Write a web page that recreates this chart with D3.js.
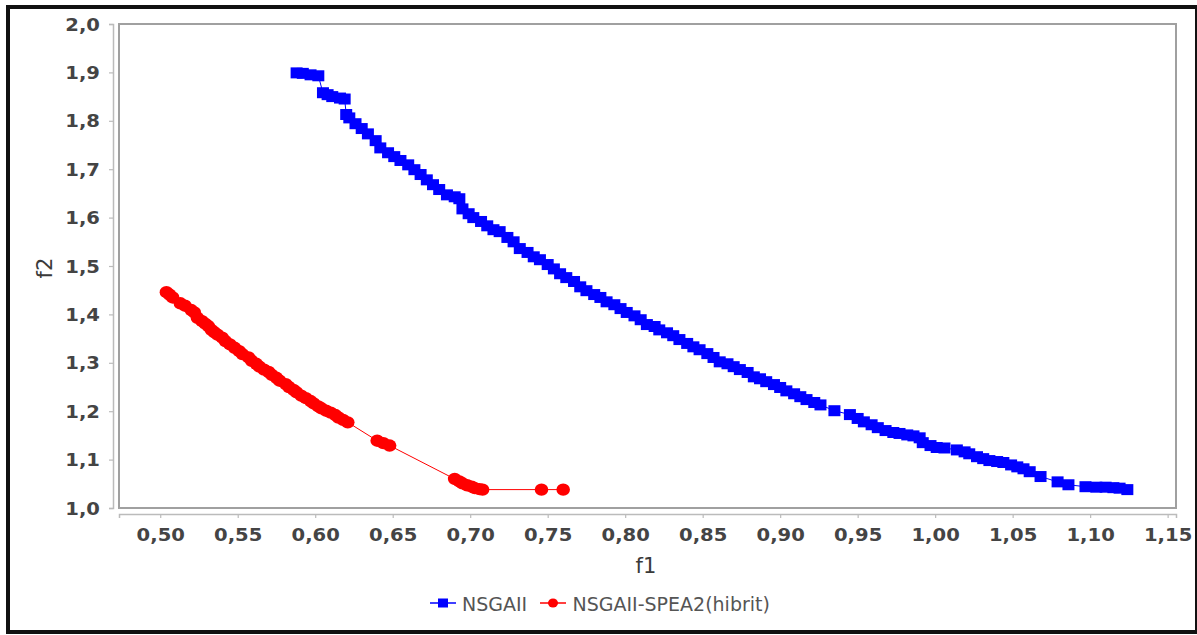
<!DOCTYPE html>
<html>
<head>
<meta charset="utf-8">
<script src="https://cdn.jsdelivr.net/npm/d3@7"></script>
<style>
  html, body { margin: 0; padding: 0; background: #fff; }
  svg { display: block; }
</style>
</head>
<body>
<svg id="chart" width="1197" height="635"></svg>
<script>
// ---- data ----
const nsgaF1 = [0.588,0.592,0.597,0.602,0.605,0.608,0.611,0.616,0.619,0.620,0.622,0.626,0.630,0.634,0.639,0.642,0.647,0.651,0.655,0.660,
  0.664,0.668,0.672,0.676,0.680,0.685,0.690,0.693,0.695,0.699,0.702,0.707,0.711,0.715,0.719,0.724,0.728,0.732,0.737,0.741,
  0.745,0.750,0.754,0.758,0.762,0.767,0.771,0.775,0.780,0.784,0.788,0.793,0.797,0.801,0.806,0.810,0.814,0.819,0.822,0.827,
  0.831,0.835,0.840,0.844,0.848,0.853,0.857,0.861,0.866,0.870,0.874,0.879,0.883,0.887,0.891,0.896,0.900,0.904,0.909,0.913,
  0.917,0.922,0.926,0.935,0.945,0.950,0.954,0.959,0.963,0.968,0.973,0.977,0.982,0.986,0.990,0.992,0.997,1.001,1.006,1.014,
  1.019,1.022,1.027,1.031,1.035,1.040,1.044,1.049,1.053,1.057,1.061,1.068,1.079,1.086,1.097,1.104,1.110,1.115,1.119,1.124];
const nsgaF2 = [1.899,1.898,1.895,1.893,1.858,1.854,1.850,1.847,1.845,1.813,1.806,1.794,1.784,1.773,1.759,1.744,1.734,1.726,1.718,1.709,
  1.699,1.689,1.678,1.668,1.658,1.647,1.643,1.639,1.618,1.608,1.600,1.592,1.583,1.575,1.571,1.559,1.550,1.536,1.528,1.519,
  1.513,1.503,1.494,1.484,1.476,1.468,1.457,1.449,1.441,1.435,1.426,1.420,1.412,1.404,1.397,1.389,1.379,1.375,1.368,1.362,
  1.356,1.348,1.340,1.333,1.327,1.319,1.311,1.302,1.298,1.292,1.286,1.280,1.271,1.267,1.261,1.255,1.249,1.242,1.236,1.230,
  1.224,1.218,1.213,1.201,1.193,1.185,1.178,1.172,1.166,1.160,1.156,1.154,1.151,1.149,1.145,1.135,1.129,1.125,1.124,1.120,
  1.116,1.112,1.106,1.102,1.098,1.096,1.094,1.089,1.085,1.081,1.075,1.065,1.054,1.048,1.044,1.043,1.043,1.042,1.041,1.038];

const hybridF1 = [0.504,0.506,0.508,0.513,0.516,0.520,0.522,0.524,0.527,0.529,0.531,0.533,0.535,0.537,0.540,0.542,0.545,0.548,0.551,0.553,
  0.557,0.559,0.562,0.564,0.567,0.570,0.572,0.575,0.577,0.581,0.583,0.586,0.588,0.591,0.594,0.597,0.599,0.602,0.604,0.607,
  0.610,0.613,0.615,0.618,0.621,0.640,0.644,0.648,0.690,0.693,0.695,0.698,0.701,0.703,0.706,0.708,0.746,0.760];
const hybridF2 = [1.446,1.441,1.435,1.423,1.418,1.409,1.404,1.393,1.386,1.381,1.376,1.368,1.363,1.358,1.352,1.345,1.338,1.331,1.324,1.318,
  1.311,1.304,1.298,1.292,1.286,1.281,1.275,1.269,1.263,1.256,1.250,1.244,1.239,1.232,1.227,1.221,1.216,1.210,1.206,1.201,
  1.197,1.192,1.187,1.182,1.177,1.139,1.134,1.129,1.060,1.055,1.051,1.047,1.044,1.041,1.039,1.038,1.038,1.038];

const seriesNames = ["NSGAII", "NSGAII-SPEA2(hibrit)"];
const xTicks = [0.50,0.55,0.60,0.65,0.70,0.75,0.80,0.85,0.90,0.95,1.00,1.05,1.10,1.15];
const yTicks = [1.0,1.1,1.2,1.3,1.4,1.5,1.6,1.7,1.8,1.9,2.0];
const xTitle = "f1", yTitle = "f2";

// ---- layout ----
const svg = d3.select("#chart");
const plot = {left: 119, right: 1176, top: 24, bottom: 508};
const x = d3.scaleLinear().domain([0.4734, 1.1554]).range([plot.left, plot.right]);
const y = d3.scaleLinear().domain([1.0, 2.0]).range([plot.bottom, plot.top]);
const comma = (f) => (v) => d3.format(f)(v).replace(".", ",");

// outer frame
svg.append("rect").attr("x", 8).attr("y", 7).attr("width", 1189).attr("height", 625)
  .attr("fill", "none").attr("stroke", "#111").attr("stroke-width", 4);

// plot background + outline
svg.append("rect").attr("x", plot.left).attr("y", plot.top)
  .attr("width", plot.right - plot.left).attr("height", plot.bottom - plot.top)
  .attr("fill", "#fff").attr("stroke", "#a0a0a0").attr("stroke-width", 2);

const labelFont = "'DejaVu Sans', Verdana, sans-serif";

// Y axis
const yAxisG = svg.append("g").attr("transform", "translate(113,0)")
  .call(d3.axisLeft(y).tickValues(yTicks).tickSize(4).tickPadding(9).tickFormat(comma(".1f")));
yAxisG.select(".domain").attr("stroke", "#bbb").attr("stroke-width", 1.5);
yAxisG.selectAll(".tick line").attr("stroke", "#bbb").attr("stroke-width", 1.2);
yAxisG.selectAll(".tick text")
  .attr("font-family", labelFont).attr("font-weight", "bold").attr("font-size", 17.5)
  .attr("fill", "#444").attr("x", null).attr("dy", null)
  .attr("transform", "translate(-13,6) scale(1.12,1)");

// X axis
const xAxisG = svg.append("g").attr("transform", "translate(0,514)")
  .call(d3.axisBottom(x).tickValues(xTicks).tickSize(4).tickPadding(9).tickFormat(comma(".2f")));
xAxisG.select(".domain").attr("stroke", "#bbb").attr("stroke-width", 1.5);
xAxisG.selectAll(".tick line").attr("stroke", "#bbb").attr("stroke-width", 1.2);
xAxisG.selectAll(".tick text")
  .attr("font-family", labelFont).attr("font-weight", "bold").attr("font-size", 17.5)
  .attr("fill", "#444").attr("y", null).attr("dy", null)
  .attr("transform", "translate(0,26.5) scale(1.12,1)");

// axis titles
svg.append("text").attr("x", 646).attr("y", 573).attr("text-anchor", "middle")
  .attr("font-family", labelFont).attr("font-size", 21).attr("fill", "#3a3a3a").text(xTitle);
svg.append("text").attr("transform", "translate(52,268) rotate(-90)").attr("text-anchor", "middle")
  .attr("font-family", labelFont).attr("font-size", 21).attr("fill", "#3a3a3a").text(yTitle);

// series
const nsga = nsgaF1.map((v, i) => [v, nsgaF2[i]]);
const hybrid = hybridF1.map((v, i) => [v, hybridF2[i]]);
const line = d3.line().x(d => x(d[0])).y(d => y(d[1]));

const gData = svg.append("g");
gData.append("path").datum(nsga).attr("d", line).attr("fill", "none").attr("stroke", "#0000ff").attr("stroke-width", 1);
gData.selectAll("rect.nsga").data(nsga).join("rect").attr("class", "nsga")
  .attr("x", d => x(d[0]) - 6).attr("y", d => y(d[1]) - 5.5)
  .attr("width", 12).attr("height", 11).attr("fill", "#0000ff");

gData.append("path").datum(hybrid).attr("d", line).attr("fill", "none").attr("stroke", "#ff0000").attr("stroke-width", 1);
gData.selectAll("ellipse.hyb").data(hybrid).join("ellipse").attr("class", "hyb")
  .attr("cx", d => x(d[0])).attr("cy", d => y(d[1]))
  .attr("rx", 6.8).attr("ry", 6.2).attr("fill", "#ff0000");

// legend
const lg = svg.append("g");
lg.append("line").attr("x1", 430).attr("x2", 456).attr("y1", 603).attr("y2", 603).attr("stroke", "#0000ff").attr("stroke-width", 1.5);
lg.append("rect").attr("x", 438).attr("y", 598.5).attr("width", 10).attr("height", 9).attr("fill", "#0000ff");
lg.append("text").attr("x", 462).attr("y", 610.5).attr("font-family", labelFont).attr("font-size", 19)
  .attr("fill", "#555").text(seriesNames[0]);
lg.append("line").attr("x1", 540).attr("x2", 566).attr("y1", 603).attr("y2", 603).attr("stroke", "#ff0000").attr("stroke-width", 1.5);
lg.append("ellipse").attr("cx", 553).attr("cy", 603).attr("rx", 5).attr("ry", 4.6).attr("fill", "#ff0000");
lg.append("text").attr("x", 572.5).attr("y", 610.5).attr("font-family", labelFont).attr("font-size", 19)
  .attr("fill", "#555").text(seriesNames[1]);
</script>
</body>
</html>
